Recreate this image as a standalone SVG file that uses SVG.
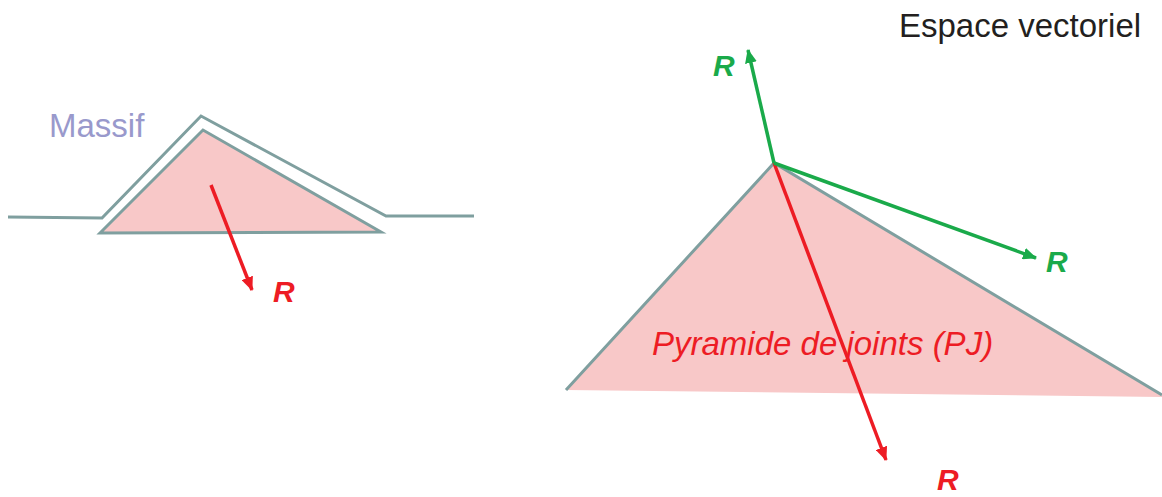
<svg xmlns="http://www.w3.org/2000/svg" width="1162" height="497" viewBox="0 0 1162 497">
<style>
.edge{fill:none;stroke:#7f9f9f;stroke-width:3;stroke-linejoin:miter}
.fill{fill:#f8c8c8;stroke:none}
.lbl{font-family:"Liberation Sans",Arial,sans-serif}
.r{font-weight:bold;font-style:italic;font-size:30px}
.red{fill:#ed1c24}
.green{fill:#1aaa4a}
.ared{stroke:#ed1c24;stroke-width:3.5;fill:none}
.agreen{stroke:#1aaa4a;stroke-width:3.5;fill:none}
</style>
<defs>
<marker id="mr" markerUnits="userSpaceOnUse" markerWidth="14" markerHeight="12" viewBox="0 0 14 12" refX="13" refY="6" orient="auto"><path d="M0,0 L14,6 L0,12 Z" fill="#ed1c24"/></marker>
<marker id="mg" markerUnits="userSpaceOnUse" markerWidth="14" markerHeight="12" viewBox="0 0 14 12" refX="13" refY="6" orient="auto"><path d="M0,0 L14,6 L0,12 Z" fill="#1aaa4a"/></marker>
</defs>
<rect width="1162" height="497" fill="#ffffff"/>
<g id="massif">
<polygon class="fill" points="100,233 203,130 381,232"/>
<polyline class="edge" points="8,217 102,218 201,116 386,216 474,216"/>
<polygon class="edge" points="100,233 203,130 381,232"/>
<text class="lbl" x="49" y="137" font-size="33" fill="#9999cc">Massif</text>
</g>
<g id="pyramide">
<polygon class="fill" points="566,390 774,163 1162,396 1162,397"/>
<polyline class="edge" points="566,390 774,163 1162,395"/>
<text class="lbl red" x="652" y="355" font-size="33" font-style="italic">Pyramide de joints (PJ)</text>
</g>
<g id="connectors">
<line class="ared" x1="211" y1="185" x2="252" y2="290" marker-end="url(#mr)"/>
<line class="ared" x1="774" y1="163" x2="886" y2="460" marker-end="url(#mr)"/>
<line class="agreen" x1="774" y1="163" x2="748" y2="50" marker-end="url(#mg)"/>
<line class="agreen" x1="774" y1="163" x2="1036" y2="258" marker-end="url(#mg)"/>
</g>
<g id="labels">
<text class="lbl r red" x="273" y="302">R</text>
<text class="lbl r red" x="937" y="490">R</text>
<text class="lbl r green" x="713" y="76">R</text>
<text class="lbl r green" x="1046" y="272">R</text>
<text class="lbl" x="899" y="37" font-size="33" fill="#231f20">Espace vectoriel</text>
</g>
</svg>
